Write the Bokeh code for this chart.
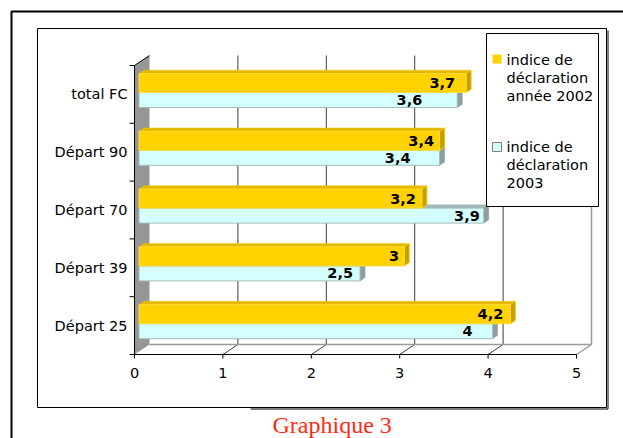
from bokeh.plotting import figure
from bokeh.models import Range1d
from bokeh.core.properties import value
from bokeh.embed import file_html
from bokeh.resources import INLINE

# ---------------- data ----------------
categories = ["total FC", "Départ 90", "Départ 70", "Départ 39", "Départ 25"]
v2002 = [3.7, 3.4, 3.2, 3.0, 4.2]
v2003 = [3.6, 3.4, 3.9, 2.5, 4.0]
x_ticks = [0, 1, 2, 3, 4, 5]
legend_2002 = ["indice de", "déclaration", "année 2002"]
legend_2003 = ["indice de", "déclaration", "2003"]
title_text = "Graphique 3"

# label nudges (screen px to the left of the bar end) - style only
lab_off_2002 = [11, 5.5, 6, 5, 7]
lab_off_2003 = [35, 29, 4, 7, 20]

# ---------------- geometry / style ----------------
W, H = 623, 438
OX, OY = 0, 0                # page position of the figure
SX, SY = 88.4, 57.8          # px per value unit, px per category band
X0, Y0 = 134, 354            # page position of value 0 / bottom of front plane
DX, DY = 15 / SX, 10 / SY    # 3-D depth in data units
F1, F2 = 0.3, 0.633          # bar front / back depth fractions
FONT = value("DejaVu Sans")
FS = "14.5px"

def px(X):
    return (X - X0) / SX

def py(Y):
    return (Y0 - Y) / SY

p = figure(width=W, height=H, output_backend="svg", toolbar_location=None,
           x_range=Range1d(px(OX), px(OX + W)), y_range=Range1d(py(OY + H), py(OY)),
           x_axis_type=None, y_axis_type=None, min_border=0,
           outline_line_color=None, background_fill_color="white")
p.grid.visible = False

n = len(categories)
xmax = x_ticks[-1]

# outer frame (only top/left visible)
p.line([px(11), px(11), px(OX + W + 5)], [py(OY + H + 5), py(11), py(11)], line_color="black", line_width=2)

# chart area
p.quad(left=[px(37)], right=[px(606)], top=[py(28)], bottom=[py(407)],
       fill_color="white", line_color="black", line_width=1)
p.line([px(250), px(607.5), px(607.5)], [py(408.5), py(408.5), py(30)], line_color="black", line_width=1)

# back wall gridlines + floor diagonals
for t in x_ticks[1:-1]:
    p.line([t + DX, t + DX], [DY, n + DY], line_color="#3c3c3c", line_width=1)
    p.line([t, t + DX], [0, DY], line_color="#3c3c3c", line_width=1)
# back wall right edge, floor back edge, floor right edge
p.line([xmax + DX, xmax + DX], [n + DY, DY], line_color="#9a9a9a", line_width=1.5)
p.line([DX, xmax + DX], [DY, DY], line_color="#9a9a9a", line_width=1.5)
p.line([xmax, xmax + DX], [0, DY], line_color="#9a9a9a", line_width=1.5)

# left wall
p.patch([0, DX, DX, 0], [n, n + DY, DY, 0], fill_color="#969696", line_color=None)
p.line([0, DX], [n, n + DY], line_color="black", line_width=1)

# axes front lines
p.line([0, 0], [0, n], line_color="black", line_width=1)
p.line([0, xmax], [0, 0], line_color="black", line_width=1)
for t in x_ticks:
    p.line([t, t], [0, py(Y0 + 4)], line_color="black", line_width=1)
for b in range(n + 1):
    p.line([px(129), 0], [b, b], line_color="black", line_width=1)

# ---------------- bars ----------------
def bar_shapes(vals, top_px, bot_px):
    fl, fr, ft, fb = [], [], [], []
    top_xs, top_ys, end_xs, end_ys = [], [], [], []
    d = F2 - F1
    for i, v in enumerate(vals):
        b = n - 1 - i
        t = b + 1 - top_px / SY
        bo = b + 1 - bot_px / SY
        x0 = F1 * DX
        x1 = v + F1 * DX
        fl.append(x0); fr.append(x1); ft.append(t); fb.append(bo)
        top_xs.append([x0, x1, x1 + d * DX, x0 + d * DX])
        top_ys.append([t, t, t + d * DY, t + d * DY])
        end_xs.append([x1, x1, x1 + d * DX, x1 + d * DX])
        end_ys.append([bo, t, t + d * DY, bo + d * DY])
    return fl, fr, ft, fb, top_xs, top_ys, end_xs, end_ys

YEL, YEL_TOP, YEL_END = "#FFD200", "#E2B900", "#C49E00"
CYA, CYA_TOP, CYA_END = "#D4FFFF", "#A9BCBC", "#8C9E9E"

c = bar_shapes(v2003, 27, 42)
p.patches(c[4], c[5], fill_color=CYA_TOP, line_color="#9fb0b0", line_width=0.5)
p.patches(c[6], c[7], fill_color=CYA_END, line_color="#8a9a9a", line_width=0.5)
p.quad(left=c[0], right=c[1], top=c[2], bottom=c[3], fill_color=CYA,
       line_color="#a8b8b8", line_width=1)

y = bar_shapes(v2002, 8, 27)
p.patches(y[4], y[5], fill_color=YEL_TOP, line_color="#F0C800", line_width=0.5)
p.patches(y[6], y[7], fill_color=YEL_END, line_color="#F0C800", line_width=1)
p.quad(left=y[0], right=y[1], top=y[2], bottom=y[3], fill_color=YEL,
       line_color="#FFDC30", line_width=1)

def fmt(v):
    return ("%g" % v).replace(".", ",")

lab_x, lab_y, lab_t = [], [], []
for i in range(n):
    lab_x.append(y[1][i] - lab_off_2002[i] / SX)
    lab_y.append((y[2][i] + y[3][i]) / 2)
    lab_t.append(fmt(v2002[i]))
    lab_x.append(c[1][i] - lab_off_2003[i] / SX)
    lab_y.append((c[2][i] + c[3][i]) / 2)
    lab_t.append(fmt(v2003[i]))
p.text(x=lab_x, y=lab_y, text=lab_t, text_font=FONT, text_font_size=FS,
       text_font_style=value("bold"), text_align="right", text_baseline="middle",
       text_color="black")

# x tick labels
p.text(x=x_ticks, y=[py(372)] * len(x_ticks), text=[str(t) for t in x_ticks],
       text_font=FONT, text_font_size=FS, text_align="center", text_baseline="middle",
       text_color="black")

# category labels
p.text(x=[px(127)] * n, y=[n - 1 - i + 0.5 for i in range(n)], text=categories,
       text_font=FONT, text_font_size=FS, text_align="right", text_baseline="middle",
       text_color="black")

# ---------------- legend ----------------
p.quad(left=[px(486)], right=[px(598)], top=[py(33)], bottom=[py(206)],
       fill_color="white", line_color="black", line_width=1)
p.quad(left=[px(492)], right=[px(501)], top=[py(54)], bottom=[py(63)],
       fill_color=YEL, line_color=None)
p.quad(left=[px(492)], right=[px(501)], top=[py(142)], bottom=[py(151)],
       fill_color=CYA, line_color="#808080", line_width=1)
leg_t = legend_2002 + legend_2003
leg_y = [py(59), py(77), py(95), py(146), py(164), py(182)]
p.text(x=[px(506)] * len(leg_t), y=leg_y, text=leg_t, text_font=FONT, text_font_size=FS,
       text_align="left", text_baseline="middle", text_color="black")

# ---------------- title ----------------
p.text(x=[px(272)], y=[py(437)], text=[title_text], text_font=value("Liberation Serif"),
       text_font_size="24px", text_align="left", text_baseline="bottom", text_color="#FF2A12")

open("out.html", "w").write(file_html(p, INLINE))
